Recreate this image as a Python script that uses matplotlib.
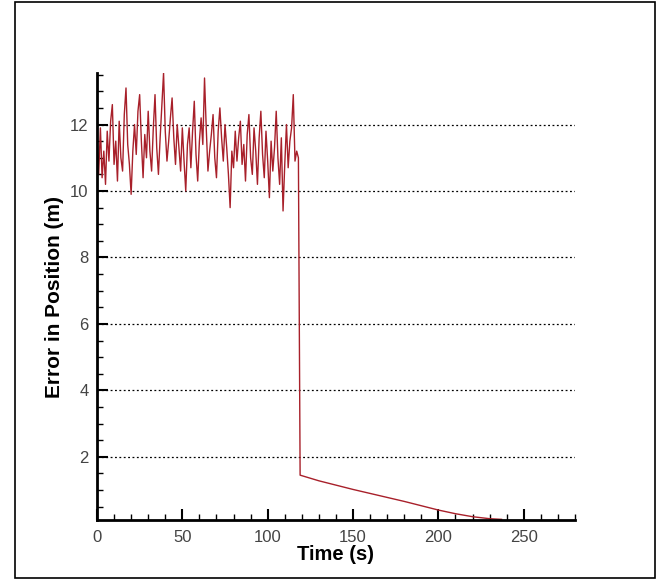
import numpy as np
import matplotlib.pyplot as plt
from matplotlib.patches import Rectangle
from matplotlib.ticker import MultipleLocator

# --------------------------
# Data
# --------------------------
noisy_error = [
    11.6, 10.5, 11.9, 10.4, 11.2, 10.2, 11.8, 10.9, 12.1, 12.6,
    10.8, 11.5, 10.3, 12.1, 11.0, 10.6, 12.3, 13.1, 11.4, 10.8,
    9.9, 11.2, 12.0, 11.1, 12.4, 12.9, 11.5, 10.4, 11.7, 11.0,
    12.4, 11.2, 10.6, 11.9, 12.9, 11.3, 10.5, 11.6, 12.6, 13.55,
    11.8, 10.9, 11.5, 12.2, 12.8, 11.6, 10.8, 12.0, 11.3, 10.6,
    11.9, 10.9, 10.0, 11.4, 11.9, 10.7, 11.8, 12.7, 11.1, 10.3,
    11.5, 12.2, 11.4, 13.4, 11.9, 10.6, 11.2, 11.7, 12.3, 11.0,
    10.4, 11.8, 12.5, 11.6, 10.9, 12.0, 11.3, 10.5, 9.5, 11.2,
    10.7, 11.8, 10.9, 11.6, 12.1, 10.8, 11.4, 10.3, 11.7, 12.3,
    11.0, 10.5, 11.9, 11.2, 10.2, 11.6, 12.4, 11.1, 10.4, 11.8,
    10.9, 9.8, 11.5, 10.6, 11.3, 12.4, 11.0, 10.2, 11.6, 9.4,
    10.8, 12.0, 10.7, 11.5, 11.9, 12.9, 10.9, 11.2, 11.0,
]
noisy_time = np.arange(len(noisy_error))

decay_time = [119, 130, 140, 150, 160, 170, 180, 190, 200, 210, 220, 230, 237]
decay_error = [1.45, 1.28, 1.15, 1.02, 0.90, 0.78, 0.66, 0.53, 0.40, 0.29, 0.20, 0.14, 0.12]

time = np.concatenate([noisy_time, decay_time])
error = np.concatenate([noisy_error, decay_error])

# --------------------------
# Figure
# --------------------------
plt.rcParams["font.family"] = ["Liberation Sans", "DejaVu Sans"]

fig = plt.figure(figsize=(6.62, 5.87), dpi=100)
ax = fig.add_axes([0.1465, 0.1141, 0.722, 0.7615])

ax.plot(time, error, color="#A8202A", lw=1.0)

ax.set_xlim(0, 280)
ax.set_ylim(0.1, 13.55)

for yv in range(2, 13, 2):
    ax.axhline(yv, color="black", lw=0.9, ls=(0, (1.5, 2)), zorder=0)

ax.xaxis.set_major_locator(MultipleLocator(50))
ax.xaxis.set_minor_locator(MultipleLocator(10))
ax.yaxis.set_major_locator(MultipleLocator(2))
ax.yaxis.set_minor_locator(MultipleLocator(0.5))

ax.tick_params(which="both", direction="in", width=1.5, color="black",
               labelsize=12, labelcolor="#444444")
ax.tick_params(which="major", length=8)
ax.tick_params(which="minor", length=4, width=1.0)
ax.tick_params(axis="x", pad=7)
ax.tick_params(axis="y", pad=6)

for side in ["top", "right"]:
    ax.spines[side].set_visible(False)
for side in ["left", "bottom"]:
    ax.spines[side].set_linewidth(2)

ax.set_xlabel("Time (s)", fontsize=14.5, fontweight="bold", labelpad=0)
ax.set_ylabel("Error in Position (m)", fontsize=15, fontweight="bold", labelpad=4)

# outer frame
fig.patches.append(Rectangle((15 / 662, 1 - 578 / 587), 640 / 662, 576 / 587,
                             transform=fig.transFigure, fill=False,
                             edgecolor="black", lw=1.2))

fig.savefig("out.png", dpi=100)
